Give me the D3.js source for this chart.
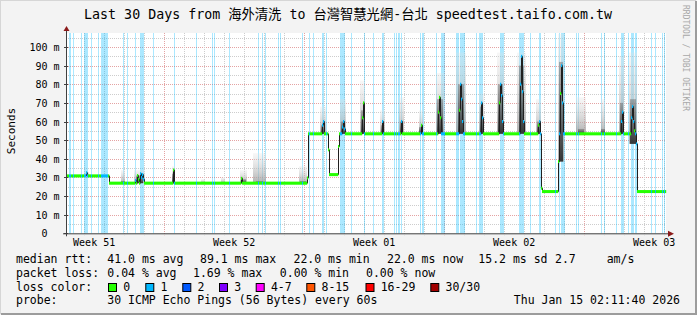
<!DOCTYPE html>
<html>
<head>
<meta charset="utf-8">
<script src="https://cdn.jsdelivr.net/npm/d3@7"></script>
<style>
  body { margin: 0; background: #f3f3f3; }
  svg text { font-family: "DejaVu Sans Mono", "Noto Sans CJK TC", monospace; }
</style>
</head>
<body>
<svg id="chart" width="697" height="315"></svg>
<script>
// ---- data -------------------------------------------------------------
var endTime = Date.UTC(2026, 0, 15, 2, 11, 40);
var days = 30;
var stepMinutes = 72;   // one consolidated sample per pixel

var yTickValues = [0, 10, 20, 30, 40, 50, 60, 70, 80, 90, 100];
var yTickLabels = ["0", "10 m", "20 m", "30 m", "40 m", "50 m", "60 m", "70 m", "80 m", "90 m", "100 m"];

var weekLabels = ["Week 51", "Week 52", "Week 01", "Week 02", "Week 03"];
var weekLabelDates = ["2025-12-17T12:00:00Z", "2025-12-24T12:00:00Z", "2025-12-31T12:00:00Z",
                      "2026-01-07T12:00:00Z", "2026-01-14T12:00:00Z"];

// median rtt (ms) held over sample ranges: [first, last, ms]
var medianLevels = [
  [0, 42, 30.8], [43, 240, 26.9], [241, 241, 29.7], [242, 261, 53.4], [262, 262, 44.8],
  [263, 271, 31.5], [272, 272, 46.6], [273, 474, 53.4], [475, 475, 24.2], [476, 491, 22.4],
  [492, 492, 38.5], [493, 569, 53.4], [570, 570, 48], [571, 599, 22.4]
];

// samples where the median jumps away from its level: [sample, ms]
var medianSpikes = [
  [20, 32.5], [69, 28.3], [71, 31], [72, 29], [74, 32], [75, 30], [76, 31.5], [77, 29],
  [107, 34], [175, 29.5],
  [256, 58], [257, 60], [276, 57], [277, 60], [278, 56], [296, 62], [297, 70], [316, 60],
  [335, 60], [355, 58], [372, 65], [373, 73], [374, 62], [393, 66], [394, 80], [395, 72],
  [396, 60], [415, 70], [416, 62], [433, 70], [434, 80], [435, 74], [436, 60], [454, 80],
  [455, 95], [456, 76], [457, 60], [472, 58], [473, 60], [494, 75], [495, 90], [496, 70],
  [555, 60], [556, 65], [565, 62], [566, 68], [567, 60], [568, 55]
];

// smoke above the median: [first, last, dense top ms, max ms]
var smoke = [
  [19, 22, 31, 33], [55, 58, 28, 34], [68, 78, 31, 34], [106, 108, 32, 36],
  [135, 138, 27.5, 29], [155, 158, 27.5, 30], [174, 180, 29, 34], [187, 199, 28, 43],
  [233, 240, 28, 36],
  [254, 259, 58, 68], [274, 279, 60, 72], [294, 298, 66, 82], [314, 318, 58, 66],
  [333, 337, 60, 73], [353, 356, 57, 66], [370, 377, 72, 86], [390, 399, 80, 97],
  [413, 417, 68, 75], [431, 437, 80, 97], [451, 459, 90, 97], [470, 474, 60, 72],
  [492, 497, 92, 107], [510, 519, 56, 73], [535, 538, 56, 72], [553, 557, 70, 95],
  [563, 570, 72, 97]
];

// samples with lost pings: [first, last, pings lost]
var lossRuns = [
  [3, 4, 1], [7, 7, 1], [15, 15, 1], [18, 21, 1], [25, 25, 1], [32, 32, 1], [35, 41, 1],
  [57, 57, 1], [61, 61, 1], [69, 69, 1], [74, 77, 1], [87, 87, 1], [108, 108, 1],
  [130, 130, 1], [146, 146, 1], [148, 148, 1], [163, 163, 1], [192, 192, 1], [196, 196, 1],
  [199, 199, 1], [212, 212, 1], [214, 214, 1], [236, 236, 1], [243, 243, 1], [247, 247, 1],
  [256, 257, 1], [260, 260, 1], [274, 278, 1], [285, 285, 1], [298, 298, 1], [307, 307, 1],
  [316, 317, 1], [328, 328, 1], [330, 330, 1], [332, 333, 1], [335, 335, 1], [354, 354, 1],
  [356, 357, 1], [370, 370, 1], [375, 378, 1], [390, 392, 1], [394, 398, 1], [410, 410, 1],
  [413, 416, 1], [434, 437, 1], [453, 457, 1], [464, 464, 1], [473, 474, 1], [489, 489, 1],
  [493, 493, 1], [495, 498, 1], [510, 510, 1], [512, 512, 1], [535, 535, 1], [538, 538, 1],
  [550, 550, 1], [555, 557, 1], [562, 562, 1], [565, 567, 1], [569, 570, 1], [585, 585, 1],
  [589, 589, 1], [596, 596, 1], [598, 598, 1]
];

var lossLabels = ["0", "1", "2", "3", "4-7", "8-15", "16-29", "30/30"];
var lossColors = ["#26ff00", "#00b8ff", "#0059ff", "#7e00ff", "#ff00ff", "#ff5500", "#ff0000", "#a10000"];

var titleText = "Last 30 Days from 海外清洗 to 台灣智慧光網-台北 speedtest.taifo.com.tw";
var statsRtt = ["41.0 ms avg", "89.1 ms max", "22.0 ms min", "22.0 ms now", "15.2 ms sd", "2.7", "am/s"];
var statsLoss = ["0.04 % avg", "1.69 % max", "0.00 % min", "0.00 % now"];
var probeText = "30 ICMP Echo Pings (56 Bytes) every 60s";
var stampText = "Thu Jan 15 02:11:40 2026";

// ---- layout -----------------------------------------------------------
var W = 697, H = 315;
var plot = { left: 66, right: 666, top: 33, bottom: 233.3 };
var startTime = endTime - days * 864e5;
var sampleCount = days * 24 * 60 / stepMinutes;

var svg = d3.select("#chart");

var x = d3.scaleUtc()
    .domain([new Date(startTime), new Date(endTime)])
    .range([plot.left, plot.right]);
var y = d3.scaleLinear().domain([0, 107.5]).range([plot.bottom, plot.top]);

function sampleTime(i) { return new Date(startTime + i * stepMinutes * 6e4); }
function sx(i) { return x(sampleTime(i)); }

var median = [];
medianLevels.forEach(function(l) {
    for (var i = l[0]; i <= l[1]; i++) median[i] = l[2];
});
medianSpikes.forEach(function(s) { median[s[0]] = s[1]; });

var loss = d3.range(sampleCount).map(function() { return 0; });
lossRuns.forEach(function(r) {
    for (var i = r[0]; i <= r[1]; i++) loss[i] = r[2];
});

// frame
svg.append("rect").attr("width", W).attr("height", H).attr("fill", "#f3f3f3");
svg.append("path").attr("d", "M0,314V0H696").attr("fill", "none").attr("stroke", "#d6d6d6").attr("stroke-width", 2);
svg.append("path").attr("d", "M1,314H696V1").attr("fill", "none").attr("stroke", "#9c9c9c").attr("stroke-width", 2);

svg.append("rect")
    .attr("x", plot.left).attr("y", plot.top)
    .attr("width", plot.right - plot.left).attr("height", plot.bottom - plot.top)
    .attr("fill", "#ffffff");

var defs = svg.append("defs");
function gradient(id, bottom, top, topOpacity) {
    var g = defs.append("linearGradient").attr("id", id)
        .attr("x1", 0).attr("y1", 1).attr("x2", 0).attr("y2", 0);
    g.append("stop").attr("offset", "0%").attr("stop-color", bottom);
    g.append("stop").attr("offset", "100%").attr("stop-color", top).attr("stop-opacity", topOpacity);
}
gradient("smokeLight", "#9c9c9c", "#e2e2e2", 0.35);
gradient("smokeDark", "#181818", "#6e6e6e", 0.6);

// grid
var grid = svg.append("g");
d3.range(5, 107, 5).forEach(function(v) {
    var major = v % 10 === 0;
    grid.append("line")
        .attr("x1", plot.left).attr("x2", plot.right)
        .attr("y1", Math.round(y(v)) + 0.5).attr("y2", Math.round(y(v)) + 0.5)
        .attr("stroke", major ? "#e4a3a3" : "#cdcdcd")
        .attr("stroke-dasharray", "1,1");
});
var dayLines = d3.utcDay.range(new Date(startTime), new Date(endTime));
dayLines.forEach(function(d) {
    var major = d.getUTCDay() === 0;
    var px = Math.round(x(d)) + 0.5;
    grid.append("line")
        .attr("x1", px).attr("x2", px)
        .attr("y1", plot.top).attr("y2", plot.bottom + 2)
        .attr("stroke", major ? "#e4a3a3" : "#cdcdcd")
        .attr("stroke-dasharray", "1,1");
});

// loss background
svg.append("g").selectAll("rect")
    .data(lossRuns)
    .enter().append("rect")
    .attr("x", function(r) { return sx(r[0]); })
    .attr("y", plot.top)
    .attr("width", function(r) { return sx(r[1] + 1) - sx(r[0]); })
    .attr("height", plot.bottom - plot.top)
    .attr("fill", "#00b8ff")
    .attr("fill-opacity", 0.33);

// smoke
var smokeG = svg.append("g");
smoke.forEach(function(s) {
    var base = d3.min(d3.range(s[0], s[1] + 1), function(i) { return median[i]; });
    smokeG.append("rect")
        .attr("x", sx(s[0])).attr("width", sx(s[1] + 1) - sx(s[0]))
        .attr("y", y(s[3])).attr("height", y(base) - y(s[3]))
        .attr("fill", "url(#smokeLight)")
        .attr("opacity", 0.8);
    var trim = Math.floor((s[1] - s[0]) / 4);
    var c0 = s[0] + trim, c1 = s[1] - trim;
    smokeG.append("rect")
        .attr("x", sx(c0)).attr("width", sx(c1 + 1) - sx(c0))
        .attr("y", y(s[2])).attr("height", y(base) - y(s[2]))
        .attr("fill", "url(#smokeDark)")
        .attr("opacity", 0.8);
});

// median: thin dark line, then loss coloured band
var medLine = d3.line()
    .x(function(d, i) { return sx(i) + 0.5; })
    .y(function(d) { return y(d); })
    .curve(d3.curveStepAfter);
svg.append("path")
    .datum(median)
    .attr("d", medLine)
    .attr("fill", "none")
    .attr("stroke", "#202020")
    .attr("stroke-width", 1);

svg.append("g").selectAll("rect")
    .data(median)
    .enter().append("rect")
    .attr("x", function(d, i) { return sx(i); })
    .attr("width", function(d, i) { return sx(i + 1) - sx(i) + 0.2; })
    .attr("y", function(d) { return y(d) - 1.5; })
    .attr("height", 3)
    .attr("fill", function(d, i) { return lossColors[loss[i]]; });

// axes
var axisG = svg.append("g");
axisG.append("line")
    .attr("x1", plot.left - 3).attr("x2", plot.right + 4)
    .attr("y1", plot.bottom + 0.5).attr("y2", plot.bottom + 0.5)
    .attr("stroke", "#404040");
axisG.append("line")
    .attr("x1", plot.left + 0.5).attr("x2", plot.left + 0.5)
    .attr("y1", plot.bottom + 3).attr("y2", plot.top - 4)
    .attr("stroke", "#404040");
axisG.append("path")
    .attr("d", "M" + (plot.left - 2.5) + "," + (plot.top - 2) + "L" + (plot.left + 0.5) + "," + (plot.top - 7) +
               "L" + (plot.left + 3.5) + "," + (plot.top - 2) + "Z")
    .attr("fill", "#8b1a1a");
axisG.append("path")
    .attr("d", "M" + (plot.right + 2) + "," + (plot.bottom - 2.5) + "L" + (plot.right + 8) + "," + (plot.bottom + 0.5) +
               "L" + (plot.right + 2) + "," + (plot.bottom + 3.5) + "Z")
    .attr("fill", "#8b1a1a");

yTickValues.forEach(function(v, k) {
    var py = Math.round(y(v)) + 0.5;
    axisG.append("line")
        .attr("x1", plot.left - 2).attr("x2", plot.left + 2)
        .attr("y1", py).attr("y2", py)
        .attr("stroke", "#404040");
    axisG.append("text")
        .attr("x", v === 0 ? 47.5 : 59.5)
        .attr("y", py + 3.5)
        .attr("text-anchor", "end")
        .attr("font-size", "10px")
        .attr("fill", "#000")
        .text(yTickLabels[k]);
});

axisG.selectAll("text.week")
    .data(weekLabels)
    .enter().append("text")
    .attr("class", "week")
    .attr("x", function(d, i) { return x(new Date(weekLabelDates[i])); })
    .attr("y", 246)
    .attr("text-anchor", "middle")
    .attr("font-size", "10px")
    .text(function(d) { return d; });

// titles
svg.append("text")
    .attr("x", 348).attr("y", 19)
    .attr("text-anchor", "middle")
    .attr("font-size", "13.3px")
    .text(titleText);

svg.append("text")
    .attr("transform", "translate(15,131) rotate(-90)")
    .attr("text-anchor", "middle")
    .attr("font-size", "11px")
    .text("Seconds");

svg.append("text")
    .attr("transform", "translate(683,5) rotate(90)")
    .attr("font-size", "8px")
    .attr("fill", "#a8a8a8")
    .text("RRDTOOL / TOBI OETIKER");

// legend
var leg = svg.append("g").attr("font-size", "11.5px").attr("fill", "#000");
function legText(px, py, t, anchor) {
    leg.append("text").attr("x", px).attr("y", py)
        .attr("text-anchor", anchor || "start")
        .attr("xml:space", "preserve")
        .text(t);
}
var rttX = [107.3, 200, 293.5, 387, 478.3, 555, 606.7];
legText(16, 263, "median rtt:");
statsRtt.forEach(function(t, i) { legText(rttX[i], 263, t); });

var lossX = [107.3, 193, 279.8, 366];
legText(16, 277, "packet loss:");
statsLoss.forEach(function(t, i) { legText(lossX[i], 277, t); });

var boxX = [108.5, 145.8, 182.8, 219.5, 256.2, 306.8, 366, 430.8];
legText(16, 290.5, "loss color:");
lossLabels.forEach(function(t, i) {
    leg.append("rect")
        .attr("x", boxX[i]).attr("y", 283.5)
        .attr("width", 8).attr("height", 8)
        .attr("fill", lossColors[i])
        .attr("stroke", "#000").attr("stroke-width", 1);
    legText(boxX[i] + 14.7, 290.5, t);
});

legText(16, 304, "probe:");
legText(107.3, 304, probeText);
legText(680, 304, stampText, "end");
</script>
</body>
</html>
